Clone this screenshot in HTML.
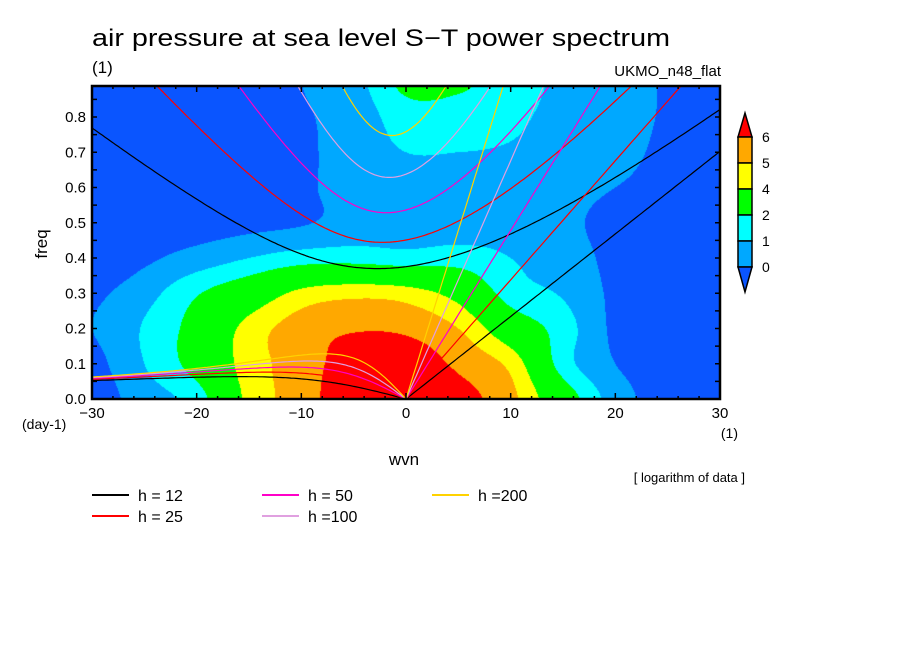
<!DOCTYPE html>
<html><head><meta charset="utf-8"><style>
html,body{margin:0;padding:0;background:#fff;width:904px;height:654px;overflow:hidden}
#wrap{position:relative;width:904px;height:654px}
canvas,svg{position:absolute;left:0;top:0}
text{font-family:"Liberation Sans",sans-serif;fill:#000}
</style></head><body>
<div id="wrap">
<canvas id="cv" width="904" height="654"></canvas>
<svg id="sv" width="904" height="654" xmlns="http://www.w3.org/2000/svg"></svg>
</div>
<script>
// ---- data ----
const wvnGrid = [-30,-25,-20,-15,-10,-5,0,5,10,15,20,25,30];
const freqGrid = [0,0.1,0.2,0.3,0.4,0.5,0.6,0.7,0.8,0.9];
const r0 = [-0.5, 0.5, 1.5, 4.3, 5.5, 6.8, 7.0, 6.4, 5.3, 2.8, 0.5,-0.4,-0.6];
const r1 = [-0.3, 1.0, 2.5, 4.5, 5.5, 6.5, 6.6, 5.8, 4.7, 1.5, 0.0,-0.4,-0.6];
const r2 = [ 0.0, 1.1, 2.5, 4.4, 5.5, 5.9, 5.8, 5.0, 3.0, 1.5,-0.2,-0.5,-0.6];
const r3 = [-0.2, 0.6, 1.9, 3.0, 4.3, 4.7, 4.5, 3.5, 1.5, 0.9,-0.2,-0.5,-0.6];
const r4 = [-0.8,-0.2, 0.4, 1.0, 1.5, 1.6, 1.4, 1.5, 1.0, 0.6,-0.3,-0.4,-0.5];
const r5 = [-0.6,-0.6,-0.5,-0.3,-0.1, 0.4, 0.5, 0.5, 0.6, 0.3,-0.4,-0.4,-0.5];
const r6 = [-0.6,-0.6,-0.5,-0.4,-0.2, 0.5, 0.7, 0.6, 0.5, 0.4, 0.0,-0.3,-0.4];
const r7 = [-0.6,-0.6,-0.5,-0.4,-0.2, 0.5, 1.0, 1.0, 0.9, 0.6, 0.3,-0.2,-0.4];
const r8 = [-0.6,-0.6,-0.5,-0.4,-0.1, 0.4, 1.5, 1.5, 1.2, 0.7, 0.4,-0.1,-0.3];
const r9 = [-0.6,-0.6,-0.5,-0.3, 0.0, 0.6, 2.3, 2.2, 1.5, 0.8, 0.5,-0.1,-0.3];
const levels = [0,1,2,4,5,6];
const levelColors = ["#0a55ff","#00a8ff","#00ffff","#00ff00","#ffff00","#ffa800","#ff0000"];
const depths = [12,25,50,100,200];
const depthColors = ["#000000","#ff0000","#ff00c8","#e0a0e0","#ffd200"];
const xTicks = [-30,-20,-10,0,10,20,30];
const yTicks = [0,0.1,0.2,0.3,0.4,0.5,0.6,0.7,0.8];

const grid = [r0,r1,r2,r3,r4,r5,r6,r7,r8,r9];
const X0=92,X1=720,Y0=399,Y1=86;
const xs = w => X0+(w+30)/60*(X1-X0);
const ys = f => Y0-f/0.1*35.25;
const wOf = x => -30+(x-X0)/(X1-X0)*60;
const fOf = y => (Y0-y)/352.5;

function cr(p0,p1,p2,p3,t){return 0.5*((2*p1)+(-p0+p2)*t+(2*p0-5*p1+4*p2-p3)*t*t+(-p0+3*p1-3*p2+p3)*t*t*t);}
function val(w,f){
  let gx=(w-wvnGrid[0])/5, gy=f/0.1;
  let ix=Math.floor(gx), iy=Math.floor(gy);
  const nx=wvnGrid.length, ny=freqGrid.length;
  const G=(i,j)=>grid[Math.max(0,Math.min(ny-1,j))][Math.max(0,Math.min(nx-1,i))];
  let tx=gx-ix, ty=gy-iy;
  const row=j=>cr(G(ix-1,j),G(ix,j),G(ix+1,j),G(ix+2,j),tx);
  return cr(row(iy-1),row(iy),row(iy+1),row(iy+2),ty);
}
function hex(c){return [parseInt(c.substr(1,2),16),parseInt(c.substr(3,2),16),parseInt(c.substr(5,2),16)];}
const cols = levelColors.map(hex);
const cv=document.getElementById('cv'),ctx=cv.getContext('2d');
const img=ctx.createImageData(X1-X0,Y0-Y1);
for(let y=Y1;y<Y0;y++)for(let x=X0;x<X1;x++){
  const v=val(wOf(x+0.5),fOf(y+0.5));
  let b=0;while(b<levels.length&&v>=levels[b])b++;
  const c=cols[b],k=((y-Y1)*(X1-X0)+(x-X0))*4;
  img.data[k]=c[0];img.data[k+1]=c[1];img.data[k+2]=c[2];img.data[k+3]=255;
}
ctx.putImageData(img,X0,Y1);

// ---- svg ----
const NS="http://www.w3.org/2000/svg",sv=document.getElementById('sv');
function el(t,a,p){const e=document.createElementNS(NS,t);for(const k in a)e.setAttribute(k,a[k]);(p||sv).appendChild(e);return e;}
function tx(s,x,y,sz,anchor,name){const e=el('text',{x:x,y:y,'font-size':sz,'text-anchor':anchor||'start'});e.textContent=s;


return e;}
const defs=el('defs',{});const cp=el('clipPath',{id:'pc'},defs);el('rect',{x:X0,y:Y1,width:X1-X0,height:Y0-Y1},cp);

// dispersion curves
const g=9.81,a=6.371e6,beta=2*7.292e-5/a,toCpd=86400/(2*Math.PI);
const curveG=el('g',{'clip-path':'url(#pc)'});
depths.forEach((h,i)=>{
  const c=Math.sqrt(g*h),col=depthColors[i];
  let ig=[],ro=[],kv=[];
  for(let s=-30;s<=30.001;s+=0.25){
    const k=s/a,A=c*c*(k*k+3*beta/c),B=beta*c*c*k;
    const f=w=>w*w*w-A*w-B, df=w=>3*w*w-A;
    let w=Math.sqrt(A)+1e-6;for(let n=0;n<40;n++)w-=f(w)/df(w);
    ig.push([xs(s),ys(w*toCpd)]);
    if(s<=0){let wr=-beta*k/(k*k+3*beta/c);for(let n=0;n<40;n++)wr-=f(wr)/df(wr);ro.push([xs(s),ys(wr*toCpd)]);}
    if(s>=0)kv.push([xs(s),ys(c*k*toCpd)]);
  }
  [[ig,'ig'],[ro,'rossby'],[kv,'kelvin']].forEach(([pts,nm])=>{
    const p=el('path',{d:'M'+pts.map(q=>q[0].toFixed(1)+','+q[1].toFixed(1)).join('L'),fill:'none',stroke:col,'stroke-width':1.2},curveG);
    
    
  });
});

// frame & ticks
const fr=el('rect',{x:X0,y:Y1,width:X1-X0,height:Y0-Y1,fill:'none',stroke:'#000','stroke-width':2.5});


let tk='';
for(let w=-30;w<=30;w+=2){const x=xs(w),L=(w%10===0)?6:3;tk+=`M${x},${Y0}v${-L}M${x},${Y1}v${L}`;}
for(let f=0;f<=0.886;f+=0.05){const y=ys(f);tk+=`M${X0},${y}h5M${X1},${y}h-5`;}
const tp=el('path',{d:tk,stroke:'#000','stroke-width':1.5,fill:'none'});


xTicks.forEach(w=>tx((w<0?'\u2212':'')+Math.abs(w),xs(w),418,15,'middle','x-tick-label'));
yTicks.forEach(f=>tx(f.toFixed(1),86,ys(f)+5,15,'end','y-tick-label'));

// titles
const tt=tx('air pressure at sea level S\u2212T power spectrum',92,46,24,'start','chart-title');tt.setAttribute('textLength',578);tt.setAttribute('lengthAdjust','spacingAndGlyphs');
tx('(1)',92,73,17,'start','title-units');
tx('UKMO_n48_flat',721,76,15,'end','model-name');
tx('(day-1)',22,429,14,'start','y-axis-units');
tx('(1)',738,438,14,'end','x-axis-units');
tx('wvn',404,465,17,'middle','x-axis-title');
const ya=tx('freq',0,0,17,'middle','y-axis-title');ya.setAttribute('transform','translate(47,244) rotate(-90)');
tx('[ logarithm of data ]',745,482,13,'end','data-note');

// colorbar
const cbx=738,cbw=14,cbTop=137,cbh=26;
const cb=el('g',{});


const nb=levels.length-1;
el('polygon',{points:`${cbx},${cbTop} ${cbx+cbw},${cbTop} ${cbx+cbw/2},113`,fill:levelColors[levels.length],stroke:'#000','stroke-width':1.5},cb);
for(let i=0;i<nb;i++){el('rect',{x:cbx,y:cbTop+i*cbh,width:cbw,height:cbh,fill:levelColors[levels.length-1-i],stroke:'#000','stroke-width':1.5},cb);}
const cbBot=cbTop+nb*cbh;
el('polygon',{points:`${cbx},${cbBot} ${cbx+cbw},${cbBot} ${cbx+cbw/2},292`,fill:levelColors[0],stroke:'#000','stroke-width':1.5},cb);
levels.forEach((lv,i)=>tx(String(lv),762,cbBot-(i)*cbh+5,14,'start','colorbar-label'));

// legend
depths.forEach((h,i)=>{
  const col=Math.floor(i/2),row=i%2;
  const lx=[92,262,432][col],ly=495+row*21;
  const ln=el('line',{x1:lx,y1:ly,x2:lx+37,y2:ly,stroke:depthColors[i],'stroke-width':2});
  
  
  const lab=h>=100?('h ='+h):('h = '+h);
  tx(lab,lx+46,ly+6,16,'start','legend-entry-h'+h);
});
</script>
</body></html>
